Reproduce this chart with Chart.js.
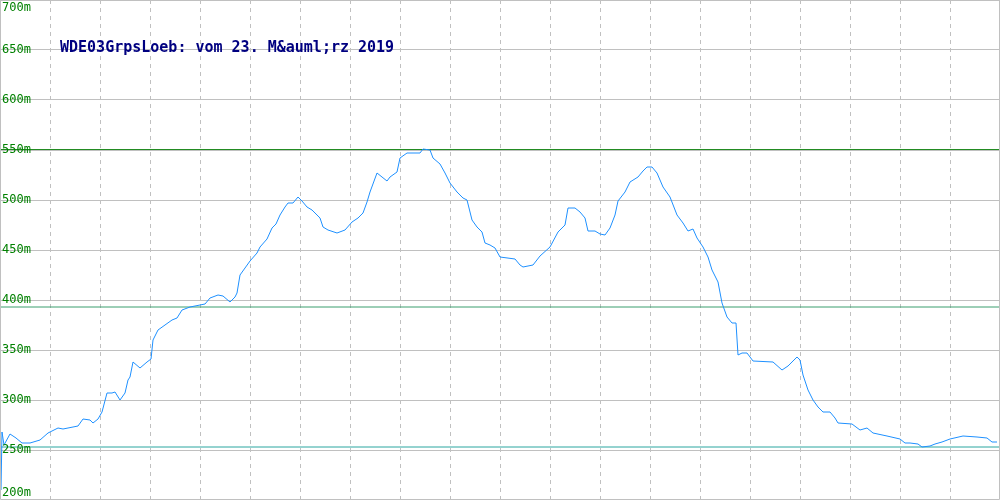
<!DOCTYPE html>
<html>
<head>
<meta charset="utf-8">
<script src="https://cdn.jsdelivr.net/npm/chart.js@4/dist/chart.umd.min.js"></script>
<style>
  html, body { margin: 0; padding: 0; background: #fff; }
  #wrap { width: 1000px; height: 500px; position: relative; }
</style>
</head>
<body>
<div id="wrap"><canvas id="profile"></canvas></div>
<script>
// track profile: distance along the track (x units) and elevation in metres
const dist = [1, 2, 4, 10, 16, 22, 30, 40, 48, 58, 63, 68, 78, 83, 90, 93, 98, 102, 107, 112, 115, 120, 125, 128, 130, 133, 140, 147, 151, 153, 158, 165, 172, 177, 182, 190, 200, 205, 210, 218, 223, 230, 235, 237, 240, 245, 250, 257, 260, 267, 272, 276, 280, 285, 288, 293, 298, 302, 307, 312, 320, 323, 328, 337, 345, 352, 358, 363, 367, 370, 377, 382, 387, 390, 397, 400, 407, 420, 423, 430, 433, 440, 445, 450, 457, 463, 467, 472, 477, 482, 485, 490, 495, 500, 515, 520, 523, 533, 540, 550, 558, 565, 568, 575, 580, 585, 588, 595, 600, 605, 610, 615, 618, 625, 630, 638, 643, 647, 652, 657, 663, 670, 677, 683, 688, 693, 697, 703, 708, 712, 718, 722, 727, 732, 736, 738, 742, 747, 753, 773, 782, 788, 797, 800, 803, 808, 813, 818, 823, 830, 835, 838, 852, 860, 867, 873, 887, 900, 905, 910, 918, 922, 930, 935, 942, 950, 963, 977, 987, 992, 997];
const elev = [210, 268, 255, 266, 262, 257, 257, 260, 267, 272, 271, 272, 274, 281, 280, 277, 281, 288, 307, 307, 308, 300, 307, 320, 323, 338, 332, 338, 341, 360, 370, 375, 380, 382, 390, 393, 395, 396, 402, 405, 404, 398, 403, 407, 425, 432, 439, 447, 453, 461, 472, 476, 485, 493, 497, 497, 503, 499, 493, 490, 482, 473, 470, 467, 470, 478, 482, 487, 498, 508, 527, 523, 519, 523, 528, 542, 547, 547, 551, 550, 542, 536, 527, 517, 508, 502, 500, 480, 473, 468, 457, 455, 452, 443, 441, 435, 433, 435, 444, 453, 468, 475, 492, 492, 488, 482, 469, 469, 466, 465, 472, 485, 499, 508, 518, 523, 529, 533, 533, 527, 513, 503, 485, 477, 469, 471, 462, 453, 443, 430, 418, 397, 383, 377, 377, 345, 347, 347, 339, 338, 330, 334, 343, 340, 325, 310, 300, 293, 288, 288, 282, 277, 276, 270, 272, 267, 264, 261, 257, 257, 256, 253, 254, 256, 258, 261, 264, 263, 262, 258, 258];

// horizontal marker lines: highest, average, lowest
const refValues = [550.5, 393, 253];
const refColors = ['#228b22', '#3a9e6e', '#2aa6a0'];

const yTicks = [200, 250, 300, 350, 400, 450, 500, 550, 600, 650, 700];
const titleText = 'WDE03GrpsLoeb: vom 23. M&auml;rz 2019';

const track = dist.map((d, i) => ({ x: d, y: elev[i] }));

const refSets = refValues.map((v, i) => ({
    data: [{ x: 0, y: v }, { x: 1000, y: v }],
    borderColor: refColors[i],
    borderWidth: 1,
    pointRadius: 0,
    showLine: true
}));

// tick labels drawn inside the plot, plus the title and frame
const overlayPlugin = {
    id: 'overlay',
    afterDatasetsDraw(chart) {
        const { ctx, chartArea: { left, right, top, bottom } } = chart;
        const yScale = chart.scales.y;
        ctx.save();

        // frame
        ctx.strokeStyle = '#c0c0c0';
        ctx.lineWidth = 1;
        ctx.beginPath();
        ctx.moveTo(left + 0.5, top);
        ctx.lineTo(left + 0.5, bottom - 0.5);
        ctx.lineTo(right - 0.5, bottom - 0.5);
        ctx.lineTo(right - 0.5, top);
        ctx.stroke();

        ctx.font = '12px "DejaVu Sans Mono"';
        ctx.fillStyle = '#008000';
        ctx.textAlign = 'left';
        ctx.textBaseline = 'middle';
        yScale.ticks.forEach(t => {
            let y = yScale.getPixelForValue(t.value);
            y = Math.min(Math.max(y, top + 8), bottom - 7);
            ctx.fillText(t.value + 'm', left + 2, y);
        });

        ctx.font = 'bold 15px "DejaVu Sans Mono"';
        ctx.fillStyle = '#000080';
        ctx.fillText(titleText, left + 60, yScale.getPixelForValue(652));
        ctx.restore();
    }
};

const chart = new Chart(document.getElementById('profile'), {
    type: 'scatter',
    data: {
        datasets: [{
            data: track,
            borderColor: '#1e90ff',
            borderWidth: 1,
            pointRadius: 0,
            showLine: true,
            tension: 0
        }, ...refSets]
    },
    options: {
        responsive: true,
        maintainAspectRatio: false,
        animation: false,
        layout: { padding: 0 },
        plugins: {
            legend: { display: false },
            tooltip: { enabled: false }
        },
        scales: {
            x: {
                type: 'linear',
                min: 0,
                max: 1000,
                ticks: { display: false, stepSize: 50 },
                grid: {
                    drawTicks: false,
                    color: c => (c.tick.value === 0 || c.tick.value === 1000) ? 'rgba(0,0,0,0)' : '#c0c0c0'
                },
                border: { display: false, dash: [4, 4] }
            },
            y: {
                min: 200,
                max: 700,
                afterBuildTicks: axis => { axis.ticks = yTicks.map(v => ({ value: v })); },
                ticks: { display: false },
                grid: { drawTicks: false, color: '#c0c0c0' },
                border: { display: false }
            }
        }
    },
    plugins: [overlayPlugin]
});
</script>
</body>
</html>
